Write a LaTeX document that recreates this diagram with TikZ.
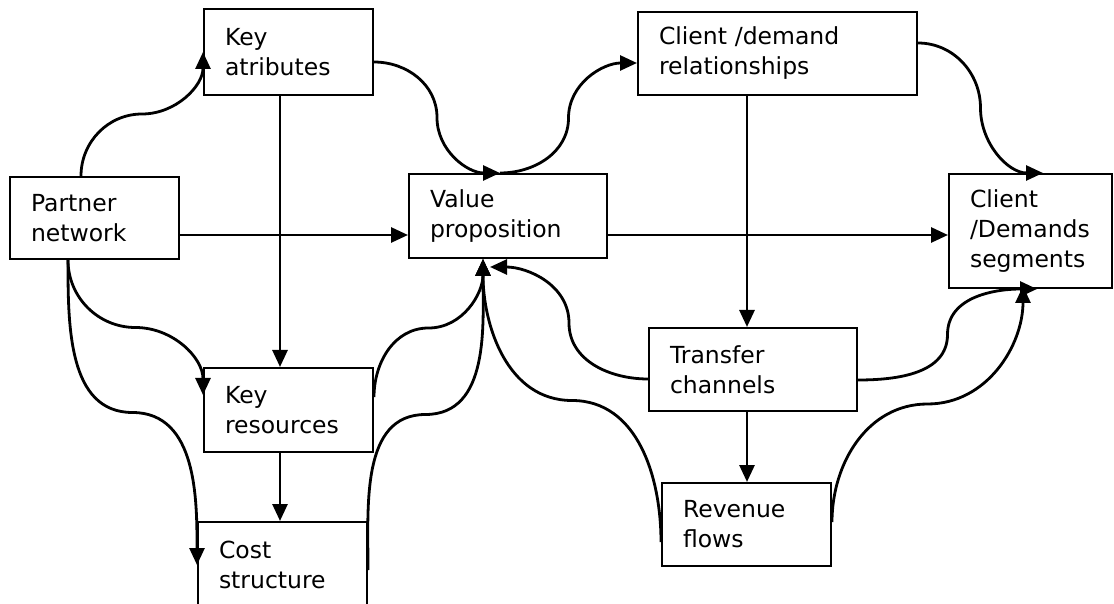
\documentclass[tikz,border=0pt]{standalone}
\usepackage{fontspec}
\setmainfont{DejaVu Sans}
\usetikzlibrary{arrows.meta,calc}

\tikzset{
  box/.style={draw, line width=2pt, inner xsep=21pt, inner ysep=0pt, align=left,
    font=\fontsize{23.5}{30}\selectfont},
  link/.style={line width=2.8pt, -{Triangle[length=17pt,width=15pt]}}
}

\begin{document}
\begin{tikzpicture}[x=1pt,y=1pt]
  \useasboundingbox (0,0) rectangle (1114,603);

  \node[box, text width=127pt, minimum height=86pt] (keyatt) at (288.5,551) {Key\\atributes};
  \node[box, text width=127pt, minimum height=82pt] (partner) at (94.5,385) {Partner\\network};
  \node[box, text width=156pt, minimum height=84pt] (value) at (508,387) {Value\\proposition};
  \node[box, text width=237pt, minimum height=83pt] (clientdem) at (777.5,549.5) {Client /demand\\relationships};
  \node[box, text width=121pt, minimum height=114pt] (clientseg) at (1030.5,372) {Client\\/Demands\\segments};
  \node[box, text width=127pt, minimum height=84pt] (keyres) at (288.5,193) {Key\\resources};
  \node[box, text width=127pt, minimum height=86pt] (cost) at (282.5,38) {Cost\\structure};
  \node[box, text width=166pt, minimum height=83pt] (transfer) at (753,233.5) {Transfer\\channels};
  \node[box, text width=127pt, minimum height=83pt] (revenue) at (746.5,78.5) {Revenue\\flows};

  \coordinate (pn) at ([xshift=-13.5pt]partner.north);
  \coordinate (ps) at ([xshift=-26.5pt]partner.south);
  \coordinate (ke) at ([yshift=-10pt]keyatt.east);
  \coordinate (vn) at ([xshift=-8pt]value.north);
  \coordinate (vs) at ([xshift=-25pt]value.south);
  \coordinate (vs2) at ([xshift=-18pt,yshift=-8pt]value.south);
  \coordinate (cw) at ([yshift=-9.5pt]clientdem.west);
  \coordinate (ce) at ([yshift=10.5pt]clientdem.east);
  \coordinate (gn) at ([xshift=12.5pt]clientseg.north);
  \coordinate (gs) at ([xshift=6.5pt]clientseg.south);
  \coordinate (gs2) at ([xshift=-7.5pt,yshift=3pt]clientseg.south);
  \coordinate (rw) at ([yshift=15pt]keyres.west);
  \coordinate (re) at ([yshift=13pt]keyres.east);
  \coordinate (coe) at ([yshift=-5pt]cost.east);
  \coordinate (tw) at ([yshift=-9.5pt]transfer.west);
  \coordinate (te) at ([yshift=-10.5pt]transfer.east);
  \coordinate (rvw) at ([yshift=-17.5pt]revenue.west);
  \coordinate (rve) at ([yshift=2.5pt]revenue.east);

  \draw[link] ([yshift=-17pt]partner.east) coordinate (h1) -- (h1 -| value.west);
  \draw[link] ([yshift=-19pt]value.east) coordinate (h2) -- (h2 -| clientseg.west);
  \draw[link] ([xshift=-8.5pt]keyatt.south) coordinate (v1) -- (v1 |- keyres.north);
  \draw[link] ([xshift=-8.5pt]keyres.south) coordinate (v2) -- (v2 |- cost.north);
  \draw[link] ([xshift=-30.5pt]clientdem.south) coordinate (v3) -- (v3 |- transfer.north);
  \draw[link] ([xshift=-6pt]transfer.south) coordinate (v4) -- (v4 |- revenue.north);

  \draw[link] (pn) to[out=90,in=180] ($(pn)!.5!(keyatt.west)$) to[out=0,in=-90] (keyatt.west);
  \draw[link] (ke) to[out=0,in=90] ($(ke)!.5!(vn)$) to[out=-90,in=180] (vn);
  \draw[link] (vn) to[out=0,in=-90] ($(vn)!.5!(cw)$) to[out=90,in=180] (cw);
  \draw[link] (ce) to[out=0,in=90] ($(ce)!.5!(gn)$) to[out=-90,in=180] (gn);
  \draw[link] (ps) to[out=-90,in=180] ($(ps)!.5!(rw)$) to[out=0,in=90] (rw);
  \draw[link] (ps) to[out=-90,in=180] ($(ps)!.5!(cost.west)$) to[out=0,in=90] (cost.west);
  \draw[link] (re) to[out=90,in=180] ($(re)!.5!(vs)$) to[out=0,in=-90] (vs);
  \draw[link] (coe) to[out=90,in=180] ($(coe)!.5!(vs)$) to[out=0,in=-90] (vs);
  \draw[link] (tw) to[out=180,in=-90] ($(tw)!.5!(vs2)$) to[out=90,in=0] (vs2);
  \draw[link] (rvw) to[out=90,in=0] ($(rvw)!.5!(vs)$) to[out=180,in=-90] (vs);
  \draw[link] (te) to[out=0,in=-90] ($(te)!.5!(gs)$) to[out=90,in=180] (gs);
  \draw[link] (rve) to[out=90,in=180] ($(rve)!.5!(gs2)$) to[out=0,in=-90] (gs2);
\end{tikzpicture}
\end{document}
